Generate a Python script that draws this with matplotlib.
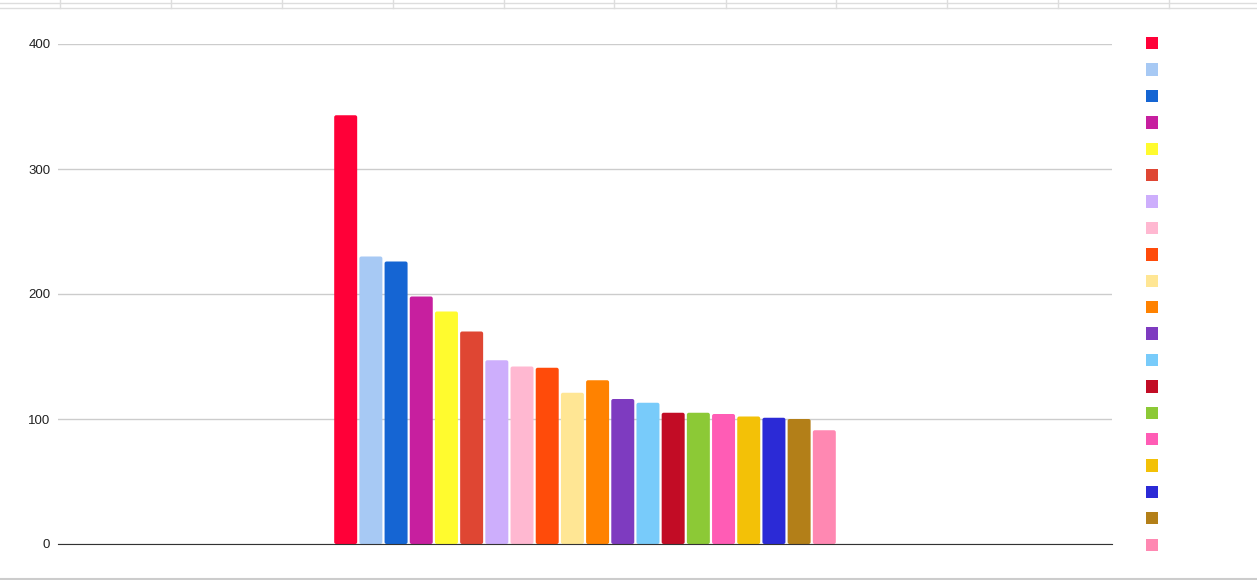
import matplotlib
matplotlib.use("Agg")
import matplotlib.pyplot as plt
from matplotlib.patches import Patch, FancyBboxPatch
from matplotlib.lines import Line2D
import numpy as np

plt.rcParams['font.family'] = ['Liberation Sans', 'DejaVu Sans']

values = [343, 230, 226, 198, 186, 170, 147, 142, 141, 121, 131, 116, 113, 105,
          105, 104, 102, 101, 100, 91]
colors = ["#ff0038", "#a7c9f4", "#1565d3", "#c71f9f", "#fffb2e", "#df4633",
          "#cdaefc", "#ffb8d1", "#ff4b0a", "#ffe694", "#ff8200", "#7e3bc0",
          "#78cbfa", "#c20c25", "#8cc936", "#ff5cb5", "#f3c107", "#2b2ad6",
          "#b37f18", "#ff88b2"]
yticks = [0, 100, 200, 300, 400]

W, H = 1257, 580
fig = plt.figure(figsize=(W / 100, H / 100), dpi=100)
ax = fig.add_axes([58 / W, 36 / H, (1112 - 58) / W, (544 - 44) / H])

n = len(values)
group = 0.478
pitch = group / n
bw = pitch * 23 / 25.2
xs = -group / 2 + pitch * (np.arange(n) + 0.5)
for x, v, c in zip(xs, values, colors):
    p = FancyBboxPatch((x - bw / 2, 0), bw, v,
                       boxstyle="round,pad=0,rounding_size=0.0019",
                       mutation_aspect=843,
                       fc=c, ec='none', zorder=3)
    ax.add_patch(p)

ax.set_xlim(-0.5, 0.5)
ax.set_ylim(0, 400)
ax.set_yticks(yticks)
ax.set_xticks([])
ax.grid(axis='y', color='#cccccc', lw=1, zorder=0)
for s in ['top', 'right', 'left']:
    ax.spines[s].set_visible(False)
ax.spines['bottom'].set_color('#333333')
ax.spines['bottom'].set_zorder(4)
ax.tick_params(axis='y', length=0, pad=5.5, labelsize=9.5, labelcolor='#222222')

handles = [Patch(fc=c, ec='none') for c in colors]
leg = fig.legend(handles, [' '] * n, loc='upper left',
                 bbox_to_anchor=(1146 / W, 1 - 37 / H), frameon=False,
                 fontsize=8.64, handlelength=1, handleheight=1.2,
                 labelspacing=1.1, handletextpad=0.5, borderaxespad=0,
                 borderpad=0)

# spreadsheet frame decorations
fig.add_artist(Line2D([0, 1], [1 - 3 / H, 1 - 3 / H], transform=fig.transFigure, color='#dddddd', lw=1))
fig.add_artist(Line2D([0, 1], [1 - 7.5 / H, 1 - 7.5 / H], transform=fig.transFigure, color='#dddddd', lw=1))
for vx in [60, 171, 282, 393, 504, 614, 726, 836, 947, 1058, 1169]:
    fig.add_artist(Line2D([vx / W, vx / W], [1 - 7.5 / H, 1], transform=fig.transFigure, color='#dddddd', lw=1))
fig.add_artist(Line2D([0, 1], [1 - 579 / H, 1 - 579 / H], transform=fig.transFigure, color='#cccccc', lw=1.5))

fig.savefig("out.png", dpi=100)
